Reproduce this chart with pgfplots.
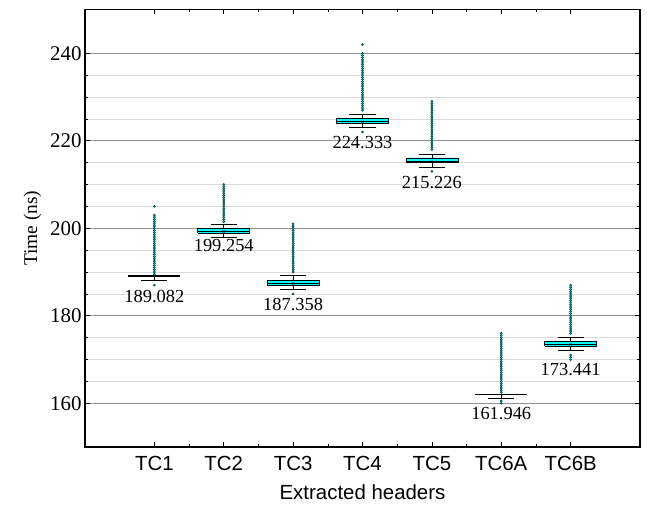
\documentclass[border=0pt]{standalone}
\usepackage{pgfplots}
\pgfplotsset{compat=1.18}
\usepackage{fontspec}
\setmainfont{Liberation Serif}
\newfontfamily\arialfont{Liberation Sans}

\definecolor{boxcyan}{RGB}{0,255,255}
\definecolor{dotfill}{RGB}{0,205,205}
\definecolor{dotedge}{RGB}{0,70,72}

\pgfplotsset{
  box/.style={draw=black, line width=0.6pt, fill=boxcyan, line join=miter},
  whisk/.style={draw=black, line width=0.6pt, mark=none},
  outl/.style={only marks, mark=*, mark size=1.1pt,
    mark options={fill=dotfill, draw=dotedge, line width=0.5pt}},
}

\begin{document}
\begin{tikzpicture}
\begin{axis}[
  scale only axis,
  width=555bp, height=437.5bp,
  xmin=0, xmax=8, ymin=150, ymax=250,
  xtick={1,2,3,4,5,6,7},
  xticklabels={TC1,TC2,TC3,TC4,TC5,TC6A,TC6B},
  minor x tick num=1,
  ytick={160,180,200,220,240},
  minor y tick num=3,
  ymajorgrids, yminorgrids,
  major grid style={gray!85, line width=0.7pt},
  minor grid style={gray!28, line width=0.7pt},
  axis line style={black, line width=1.1pt},
  tick align=inside,
  major tick length=5bp, minor tick length=3bp,
  tick style={black, line width=0.6pt},
  /pgf/number format/assume math mode=true,
  xticklabel style={font=\arialfont\fontsize{20.5}{20.5}\selectfont, yshift=-6bp},
  yticklabel style={font=\fontsize{21}{21}\selectfont},
  xlabel={Extracted headers},
  xlabel style={font=\arialfont\fontsize{20.5}{20.5}\selectfont, yshift=-7bp},
  ylabel={Time (ns)},
  ylabel style={font=\fontsize{19.5}{19.5}\selectfont, yshift=2bp},
]

% ---- boxes (lower to upper quartile) and medians ----
% TC1: quartiles coincide with the median
\addplot[whisk, line width=1.1pt] coordinates {(0.625,189.082) (1.375,189.082)};
% TC2
\addplot[box] coordinates {(1.625,198.9) (2.375,198.9) (2.375,200.0) (1.625,200.0) (1.625,198.9)};
\addplot[whisk] coordinates {(1.625,199.254) (2.375,199.254)};
% TC3
\addplot[box] coordinates {(2.625,187.05) (3.375,187.05) (3.375,188.05) (2.625,188.05) (2.625,187.05)};
\addplot[whisk] coordinates {(2.625,187.358) (3.375,187.358)};
% TC4
\addplot[box] coordinates {(3.625,223.93) (4.375,223.93) (4.375,225.07) (3.625,225.07) (3.625,223.93)};
\addplot[whisk] coordinates {(3.625,224.333) (4.375,224.333)};
% TC5
\addplot[box] coordinates {(4.625,215.0) (5.375,215.0) (5.375,216.07) (4.625,216.07) (4.625,215.0)};
\addplot[whisk] coordinates {(4.625,215.226) (5.375,215.226)};
% TC6A: quartiles coincide with the median
\addplot[whisk, line width=1.1pt] coordinates {(5.625,161.946) (6.375,161.946)};
% TC6B
\addplot[box] coordinates {(6.625,173.03) (7.375,173.03) (7.375,174.1) (6.625,174.1) (6.625,173.03)};
\addplot[whisk] coordinates {(6.625,173.441) (7.375,173.441)};

% ---- whiskers and caps ----
\addplot[whisk] coordinates {(1,189.082) (1,188.1)};
\addplot[whisk] coordinates {(0.8125,188.1) (1.1875,188.1)};

\addplot[whisk] coordinates {(2,200.0) (2,201.0)};
\addplot[whisk] coordinates {(1.8125,201.0) (2.1875,201.0)};
\addplot[whisk] coordinates {(2,198.9) (2,198.0)};
\addplot[whisk] coordinates {(1.8125,198.0) (2.1875,198.0)};

\addplot[whisk] coordinates {(3,188.05) (3,189.2)};
\addplot[whisk] coordinates {(2.8125,189.2) (3.1875,189.2)};
\addplot[whisk] coordinates {(3,187.05) (3,186.0)};
\addplot[whisk] coordinates {(2.8125,186.0) (3.1875,186.0)};

\addplot[whisk] coordinates {(4,225.07) (4,226.0)};
\addplot[whisk] coordinates {(3.8125,226.0) (4.1875,226.0)};
\addplot[whisk] coordinates {(4,223.93) (4,223.0)};
\addplot[whisk] coordinates {(3.8125,223.0) (4.1875,223.0)};

\addplot[whisk] coordinates {(5,216.07) (5,217.0)};
\addplot[whisk] coordinates {(4.8125,217.0) (5.1875,217.0)};
\addplot[whisk] coordinates {(5,215.0) (5,214.0)};
\addplot[whisk] coordinates {(4.8125,214.0) (5.1875,214.0)};

\addplot[whisk] coordinates {(6,161.946) (6,161.2)};
\addplot[whisk] coordinates {(5.8125,161.2) (6.1875,161.2)};

\addplot[whisk] coordinates {(7,174.1) (7,175.0)};
\addplot[whisk] coordinates {(6.8125,175.0) (7.1875,175.0)};
\addplot[whisk] coordinates {(7,173.03) (7,172.0)};
\addplot[whisk] coordinates {(6.8125,172.0) (7.1875,172.0)};

% ---- outliers ----
\addplot[outl] coordinates {(1,187) (1,189.5) (1,190) (1,190.5) (1,191) (1,191.5) (1,192) (1,192.5) (1,193) (1,193.5) (1,194) (1,194.5) (1,195) (1,195.5) (1,196) (1,196.5) (1,197) (1,197.5) (1,198) (1,198.5) (1,199) (1,199.5) (1,200) (1,200.5) (1,201) (1,201.5) (1,202) (1,202.5) (1,203) (1,205)};
\addplot[outl] coordinates {(2,201.5) (2,202) (2,202.5) (2,203) (2,203.5) (2,204) (2,204.5) (2,205) (2,205.5) (2,206) (2,206.5) (2,207) (2,207.5) (2,208) (2,208.5) (2,209) (2,209.5) (2,210)};
\addplot[outl] coordinates {(3,185) (3,190) (3,190.5) (3,191) (3,191.5) (3,192) (3,192.5) (3,193) (3,193.5) (3,194) (3,194.5) (3,195) (3,195.5) (3,196) (3,196.5) (3,197) (3,197.5) (3,198) (3,198.5) (3,199) (3,199.5) (3,200) (3,200.5) (3,201)};
\addplot[outl] coordinates {(4,222) (4,227) (4,227.5) (4,228) (4,228.5) (4,229) (4,229.5) (4,230) (4,230.5) (4,231) (4,231.5) (4,232) (4,232.5) (4,233) (4,233.5) (4,234) (4,234.5) (4,235) (4,235.5) (4,236) (4,236.5) (4,237) (4,237.5) (4,238) (4,238.5) (4,239) (4,239.5) (4,240) (4,242)};
\addplot[outl] coordinates {(5,213) (5,218) (5,218.5) (5,219) (5,219.5) (5,220) (5,220.5) (5,221) (5,221.5) (5,222) (5,222.5) (5,223) (5,223.5) (5,224) (5,224.5) (5,225) (5,225.5) (5,226) (5,226.5) (5,227) (5,227.5) (5,228) (5,228.5) (5,229)};
\addplot[outl] coordinates {(6,160) (6,160.5) (6,162.5) (6,163) (6,163.5) (6,164) (6,164.5) (6,165) (6,165.5) (6,166) (6,166.5) (6,167) (6,167.5) (6,168) (6,168.5) (6,169) (6,169.5) (6,170) (6,170.5) (6,171) (6,171.5) (6,172) (6,172.5) (6,173) (6,173.5) (6,174) (6,174.5) (6,175) (6,175.5) (6,176)};
\addplot[outl] coordinates {(7,170) (7,170.5) (7,171) (7,176) (7,176.5) (7,177) (7,177.5) (7,178) (7,178.5) (7,179) (7,179.5) (7,180) (7,180.5) (7,181) (7,181.5) (7,182) (7,182.5) (7,183) (7,183.5) (7,184) (7,184.5) (7,185) (7,185.5) (7,186) (7,186.5) (7,187)};

% ---- means ----
\addplot[only marks, mark=x, mark size=1.6pt, black, mark options={line width=0.5pt}]
  coordinates {(2,199.254) (3,187.358) (4,224.333) (5,215.226) (7,173.441)};

% ---- median values under each box ----
\node[font=\fontsize{18.5}{18.5}\selectfont, inner sep=0pt] at (axis cs:1,184.3) {189.082};
\node[font=\fontsize{18.5}{18.5}\selectfont, inner sep=0pt] at (axis cs:2,196.0) {199.254};
\node[font=\fontsize{18.5}{18.5}\selectfont, inner sep=0pt] at (axis cs:3,182.6) {187.358};
\node[font=\fontsize{18.5}{18.5}\selectfont, inner sep=0pt] at (axis cs:4,219.6) {224.333};
\node[font=\fontsize{18.5}{18.5}\selectfont, inner sep=0pt] at (axis cs:5,210.5) {215.226};
\node[font=\fontsize{18.5}{18.5}\selectfont, inner sep=0pt] at (axis cs:6,157.6) {161.946};
\node[font=\fontsize{18.5}{18.5}\selectfont, inner sep=0pt] at (axis cs:7,167.6) {173.441};
\end{axis}
\pgfresetboundingbox
\path ([xshift=-85bp,yshift=-60bp]current axis.south west)
  rectangle ([xshift=8bp,yshift=9.5bp]current axis.north east);
\end{tikzpicture}
\end{document}
